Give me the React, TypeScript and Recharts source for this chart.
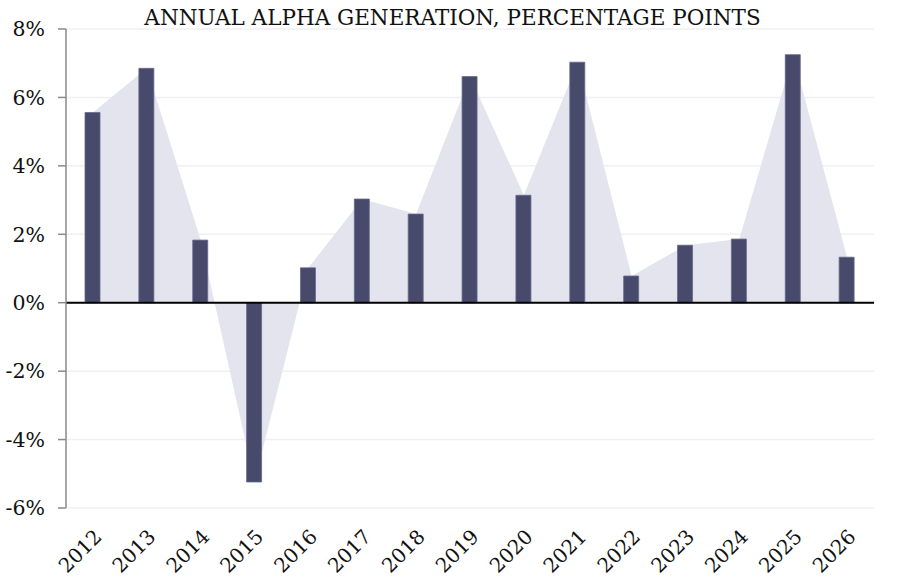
import React from 'react';
import { ComposedChart, Area, Bar, XAxis, YAxis, CartesianGrid, ReferenceLine } from 'recharts';

const years = ['2012', '2013', '2014', '2015', '2016', '2017', '2018', '2019', '2020', '2021', '2022', '2023', '2024', '2025', '2026'];
const alpha = [5.56, 6.85, 1.83, -5.24, 1.02, 3.03, 2.59, 6.61, 3.14, 7.03, 0.78, 1.68, 1.86, 7.25, 1.33];
const yTicks = [-6, -4, -2, 0, 2, 4, 6, 8];

const data = years.map((year, i) => ({ year, alpha: alpha[i] }));

const FONT = "Georgia, 'DejaVu Serif', serif";

const App: React.FC = () => {
  return (
    <div style={{ position: 'absolute', left: 0, top: 0, width: 900, height: 585, background: '#fff' }}>
      <div
        style={{
          position: 'absolute',
          top: 5,
          left: 0,
          width: 905,
          textAlign: 'center',
          fontFamily: FONT,
          fontSize: 21.5,
          color: '#111',
          zIndex: 2,
        }}
      >
        ANNUAL ALPHA GENERATION, PERCENTAGE POINTS
      </div>
      <ComposedChart
        width={900}
        height={585}
        data={data}
        margin={{ top: 29, right: 26, left: 0, bottom: 0 }}
        barCategoryGap={0}
      >
        <CartesianGrid vertical={false} stroke="#f0f0f3" strokeWidth={1.5} />
        <XAxis
          dataKey="year"
          axisLine={false}
          tickLine={false}
          interval={0}
          height={77}
          angle={-45}
          textAnchor="end"
          tickMargin={14}
          tick={{ fontSize: 20, fill: '#111', fontFamily: FONT }}
        />
        <YAxis
          width={66}
          domain={[-6, 8]}
          ticks={yTicks}
          tickFormatter={(v) => `${v}%`}
          axisLine={{ stroke: '#8a8a8a', strokeWidth: 1.5 }}
          tickLine={{ stroke: '#8a8a8a', strokeWidth: 1.5 }}
          tickSize={8}
          tickMargin={13}
          tick={{ fontSize: 20.5, fill: '#111', fontFamily: FONT }}
        />
        <Area
          type="linear"
          dataKey="alpha"
          baseValue={0}
          stroke="none"
          fill="#e4e4ef"
          fillOpacity={1}
          isAnimationActive={false}
        />
        <Bar
          dataKey="alpha"
          barSize={15}
          fill="#484a6b"
          stroke="#66688a"
          strokeWidth={0.8}
          isAnimationActive={false}
        />
        <ReferenceLine y={0} stroke="#000" strokeWidth={2} />
      </ComposedChart>
    </div>
  );
};

export default App;
